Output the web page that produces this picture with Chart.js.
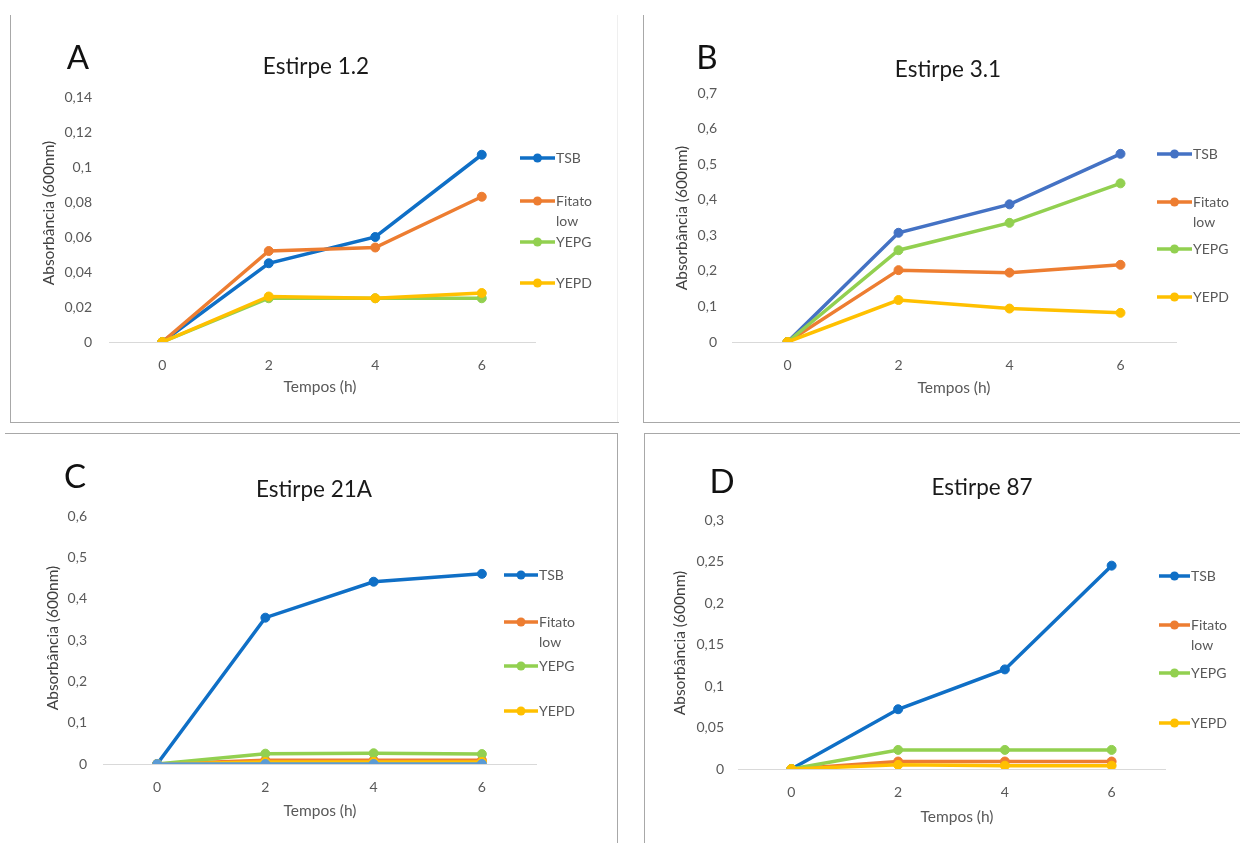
<!DOCTYPE html>
<html>
<head>
<meta charset="utf-8">
<script src="https://cdn.jsdelivr.net/npm/chart.js@4.4.1/dist/chart.umd.min.js"></script>
<style>
  html, body { margin: 0; padding: 0; background: #ffffff; }
  #wrap { position: relative; width: 1240px; height: 843px; overflow: hidden; background: #fff; }
  #wrap canvas { position: absolute; }
  .ln { position: absolute; background: #a8a8a8; }
</style>
</head>
<body>
<div id="wrap">
  <canvas id="cA" width="620" height="425" style="left:0px;top:0px"></canvas>
  <canvas id="cB" width="620" height="425" style="left:620px;top:0px"></canvas>
  <canvas id="cC" width="620" height="418" style="left:0px;top:425px"></canvas>
  <canvas id="cD" width="620" height="418" style="left:620px;top:425px"></canvas>

  <!-- panel frames -->
  <div class="ln" style="left:10px;top:15px;width:1px;height:407px"></div>
  <div class="ln" style="left:10px;top:422px;width:609px;height:1px"></div>
  <div class="ln" style="left:617px;top:15px;width:1px;height:407px;background:#efefef"></div>
  <div class="ln" style="left:643px;top:15px;width:1px;height:407px"></div>
  <div class="ln" style="left:643px;top:422px;width:597px;height:1px"></div>
  <div class="ln" style="left:5px;top:433px;width:612px;height:1px"></div>
  <div class="ln" style="left:617px;top:433px;width:1px;height:410px"></div>
  <div class="ln" style="left:644px;top:433px;width:596px;height:1px"></div>
  <div class="ln" style="left:644px;top:433px;width:1px;height:410px"></div>
</div>

<script>
// ---- data ----
const tempos = ['0', '2', '4', '6'];
const seriesNames = ['TSB', 'Fitato low', 'YEPG', 'YEPD'];

// Estirpe 1.2
const a_TSB    = [0, 0.045, 0.060, 0.107];
const a_Fitato = [0, 0.052, 0.054, 0.083];
const a_YEPG   = [0, 0.025, 0.025, 0.025];
const a_YEPD   = [0, 0.026, 0.025, 0.028];
const a_yTicks = ['0', '0,02', '0,04', '0,06', '0,08', '0,1', '0,12', '0,14'];

// Estirpe 3.1
const b_TSB    = [0, 0.307, 0.387, 0.529];
const b_Fitato = [0, 0.202, 0.195, 0.217];
const b_YEPG   = [0, 0.258, 0.335, 0.446];
const b_YEPD   = [0, 0.118, 0.094, 0.082];
const b_yTicks = ['0', '0,1', '0,2', '0,3', '0,4', '0,5', '0,6', '0,7'];

// Estirpe 21A
const c_TSB    = [0, 0.354, 0.441, 0.460];
const c_Fitato = [0, 0.009, 0.009, 0.009];
const c_YEPG   = [0, 0.025, 0.026, 0.024];
const c_YEPD   = [0, 0.005, 0.005, 0.005];
const c_Serie5 = [0, 0, 0, 0];
const c_yTicks = ['0', '0,1', '0,2', '0,3', '0,4', '0,5', '0,6'];

// Estirpe 87
const d_TSB    = [0, 0.072, 0.120, 0.245];
const d_Fitato = [0, 0.009, 0.009, 0.009];
const d_YEPG   = [0, 0.023, 0.023, 0.023];
const d_YEPD   = [0, 0.005, 0.004, 0.004];
const d_yTicks = ['0', '0,05', '0,1', '0,15', '0,2', '0,25', '0,3'];

// ---- styling ----
const FONT = 'Lato, "Open Sans", sans-serif';
const GREY = '#595959';
const ORANGE = '#ED7D31', GREEN = '#92D050', YELLOW = '#FFC000';

function makeSets(values, colors, names) {
  const n = values.length;
  return values.map((v, i) => ({
    label: names[i],
    data: v,
    borderColor: colors[i],
    backgroundColor: colors[i],
    pointBackgroundColor: colors[i],
    pointBorderColor: colors[i],
    borderWidth: 3.5,
    pointRadius: 4.5,
    pointBorderWidth: 1,
    tension: 0,
    order: n - i
  }));
}

// decorations: panel letter, title, axis titles and the legend column
const decor = {
  id: 'decor',
  afterDraw(chart, args, o) {
    const ctx = chart.ctx;
    const ox = o.ox, oy = o.oy;
    ctx.save();
    ctx.textBaseline = 'middle';
    ctx.textAlign = 'center';
    ctx.fillStyle = '#111';
    ctx.font = '33px ' + FONT;
    ctx.fillText(o.letter, o.letterPos[0] - ox, o.letterPos[1] - oy);
    ctx.fillStyle = '#1a1a1a';
    ctx.font = '22.5px ' + FONT;
    ctx.fillText(o.title, o.titlePos[0] - ox, o.titlePos[1] - oy);
    ctx.fillStyle = GREY;
    ctx.font = '15.5px ' + FONT;
    ctx.fillText('Tempos (h)', o.xTitlePos[0] - ox, o.xTitlePos[1] - oy);
    ctx.save();
    ctx.translate(o.yTitlePos[0] - ox, o.yTitlePos[1] - oy);
    ctx.rotate(-Math.PI / 2);
    ctx.fillStyle = '#404040';
    ctx.fillText('Absorbância (600nm)', 0, 0);
    ctx.restore();

    // legend
    const L = o.legend;
    chart.data.datasets.forEach((ds, i) => {
      if (i >= L.ys.length) return;
      const y = L.ys[i] - oy;
      const x0 = L.x0 - ox, x1 = L.x1 - ox;
      ctx.strokeStyle = ds.borderColor;
      ctx.lineWidth = 3.5;
      ctx.beginPath(); ctx.moveTo(x0, y); ctx.lineTo(x1, y); ctx.stroke();
      ctx.fillStyle = ds.borderColor;
      ctx.beginPath(); ctx.arc((x0 + x1) / 2, y, 4.5, 0, Math.PI * 2); ctx.fill();
      ctx.fillStyle = GREY;
      ctx.textAlign = 'left';
      ctx.font = '14px ' + FONT;
      const parts = ds.label === 'Fitato low' ? ['Fitato', 'low'] : [ds.label];
      parts.forEach((p, k) => ctx.fillText(p, x1 + 1, y + k * 20));
    });
    ctx.restore();
  }
};

function panel(id, box, area, yMax, yStep, yLabels, tickPad, datasets, deco) {
  const [cx, cy, cw, ch] = box;
  const yW = area.l - cx;
  const xH = 40;
  new Chart(document.getElementById(id), {
    type: 'line',
    data: { labels: tempos, datasets },
    options: {
      responsive: false,
      animation: false,
      devicePixelRatio: 1,
      layout: { padding: { left: 0, top: area.t - cy, right: cx + cw - area.r, bottom: cy + ch - area.b - xH } },
      plugins: {
        legend: { display: false },
        title: { display: false },
        tooltip: { enabled: false },
        decor: Object.assign({ ox: cx, oy: cy }, deco)
      },
      scales: {
        x: {
          type: 'category',
          offset: true,
          grid: { display: false, drawTicks: false },
          border: { display: true, color: '#d9d9d9', width: 1 },
          ticks: { color: GREY, font: { family: FONT, size: 14 }, padding: 15 },
          afterFit: s => { s.height = xH; }
        },
        y: {
          min: 0, max: yMax,
          grid: { display: false, drawTicks: false },
          border: { display: false },
          ticks: { stepSize: yStep, color: GREY, font: { family: FONT, size: 14 }, padding: tickPad,
                   callback: (v, i) => yLabels[i] },
          afterFit: s => { s.width = yW; }
        }
      }
    },
    plugins: [decor]
  });
}

const blueDark = '#0F6FC6', blueB = '#4472C4', lightBlue = '#5B9BD5';

panel('cA', [0, 0, 620, 425], { l: 109, r: 535, t: 97, b: 342 }, 0.14, 0.02, a_yTicks, 17,
  makeSets([a_TSB, a_Fitato, a_YEPG, a_YEPD], [blueDark, ORANGE, GREEN, YELLOW], seriesNames),
  { letter: 'A', letterPos: [78, 58], title: 'Estirpe 1.2', titlePos: [316, 67],
    xTitlePos: [320, 387], yTitlePos: [49, 213],
    legend: { x0: 520, x1: 555, ys: [158, 201, 242, 283] } });

panel('cB', [620, 0, 620, 425], { l: 732, r: 1176, t: 93, b: 342 }, 0.7, 0.1, b_yTicks, 15,
  makeSets([b_TSB, b_Fitato, b_YEPG, b_YEPD], [blueB, ORANGE, GREEN, YELLOW], seriesNames),
  { letter: 'B', letterPos: [707, 58], title: 'Estirpe 3.1', titlePos: [948, 70],
    xTitlePos: [954, 388], yTitlePos: [682, 218],
    legend: { x0: 1157, x1: 1192, ys: [154, 202, 249, 297] } });

panel('cC', [0, 425, 620, 418], { l: 103, r: 536, t: 516, b: 764 }, 0.6, 0.1, c_yTicks, 16,
  makeSets([c_TSB, c_Fitato, c_YEPG, c_YEPD, c_Serie5], [blueDark, ORANGE, GREEN, YELLOW, lightBlue],
           seriesNames.concat(['Série 5'])),
  { letter: 'C', letterPos: [75, 477], title: 'Estirpe 21A', titlePos: [314, 490],
    xTitlePos: [320, 811], yTitlePos: [53, 638],
    legend: { x0: 504, x1: 538, ys: [575, 622, 666, 711] } });

panel('cD', [620, 425, 620, 418], { l: 738, r: 1165, t: 520, b: 769 }, 0.3, 0.05, d_yTicks, 14,
  makeSets([d_TSB, d_Fitato, d_YEPG, d_YEPD], [blueDark, ORANGE, GREEN, YELLOW], seriesNames),
  { letter: 'D', letterPos: [722, 482], title: 'Estirpe 87', titlePos: [982, 488],
    xTitlePos: [957, 817], yTitlePos: [680, 643],
    legend: { x0: 1159, x1: 1190, ys: [576, 625, 673, 723] } });
</script>
</body>
</html>
